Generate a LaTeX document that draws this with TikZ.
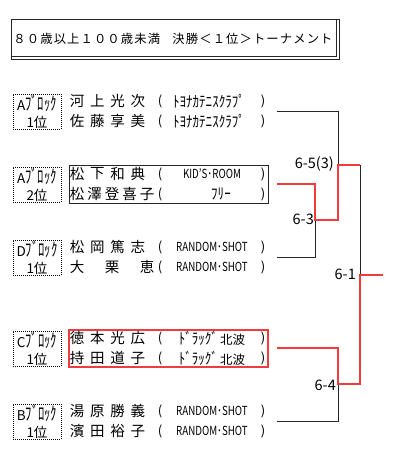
\documentclass[tikz,border=0pt]{standalone}
\usepackage{fontspec}
\usepackage{graphicx}
\setmainfont{Noto Sans CJK JP}
\definecolor{wred}{RGB}{240,60,60}
\tikzset{
  blk/.style={draw, dash pattern=on 1pt off 1pt, line width=0.8pt, minimum width=48pt, minimum height=35pt, inner sep=0pt},
  blt/.style={inner sep=0pt, font=\fontsize{13.5}{13.5}\selectfont},
  nm/.style={inner sep=0pt, font=\fontsize{14.5}{14.5}\selectfont},
  cl/.style={inner sep=0pt, font=\fontsize{12.5}{12.5}\selectfont},
  par/.style={inner sep=0pt, font=\fontsize{13}{13}\selectfont},
  sc/.style={inner sep=0pt, anchor=east, font=\fontsize{14.5}{14.5}\selectfont},
  bk/.style={draw=black!85, line width=0.9pt},
  rd/.style={draw=wred, line width=2.6pt},
  bbox/.style={draw=black!85, line width=1pt},
  rbox/.style={draw=wred, line width=2pt}
}
\newcommand\rowfour[3]{\foreach \ch [count=\i] in {#3} {\node[nm] (#1-\i) at ({77+(\i-1)*20.33},#2) {\ch};}}
\newcommand\rowfive[3]{\foreach \ch [count=\i] in {#3} {\node[nm] (#1-\i) at ({77+(\i-1)*17.5},#2) {\ch};}}
\newcommand\clubrow[4]{%
  \node[par] (#1-o) at (160,#2) {(};
  \node[cl] (#1-c) at (#3,#2) {#4};
  \node[par] (#1-x) at (263,#2) {)};}
\newcommand\lat[1]{\scalebox{0.78}[1]{#1}}
\newcommand\kana[1]{\scalebox{0.84}[1]{\fontsize{15.5}{15.5}\selectfont #1}}
\newcommand\bkana[1]{\scalebox{0.68}[1]{\fontsize{18.5}{18.5}\selectfont #1}}
\begin{document}
\begin{tikzpicture}[x=1pt,y=-1pt]
\useasboundingbox (0,0) rectangle (400,474);
\fill[white] (0,0) rectangle (400,474);
% title
\draw[bbox] (11,19) rectangle (339,59);
\draw[bbox] (11,56) -- (336,56) -- (336,19);
\node[inner sep=0pt] (title) at (173,39) {\resizebox{319pt}{!}{\fontsize{13}{13}\selectfont\addfontfeature{LetterSpace=9}８０歳以上１００歳未満\hspace{9pt} 決勝＜１位＞トーナメント}};
% block boxes
\node[blk] (bA1) at (37,111.5) {};
\node[blt] (bA1a) at (37,103) {A\bkana{ﾌﾞﾛｯｸ}};
\node[blt] (bA1b) at (37,122) {1位};
\node[blk] (bA2) at (37,184.5) {};
\node[blt] (bA2a) at (37,176) {A\bkana{ﾌﾞﾛｯｸ}};
\node[blt] (bA2b) at (37,195) {2位};
\node[blk] (bD1) at (37,257.5) {};
\node[blt] (bD1a) at (37,249) {D\bkana{ﾌﾞﾛｯｸ}};
\node[blt] (bD1b) at (37,268) {1位};
\node[blk] (bC1) at (37,348.5) {};
\node[blt] (bC1a) at (37,340) {C\bkana{ﾌﾞﾛｯｸ}};
\node[blt] (bC1b) at (37,359) {1位};
\node[blk] (bB1) at (37,421.5) {};
\node[blt] (bB1a) at (37,413) {B\bkana{ﾌﾞﾛｯｸ}};
\node[blt] (bB1b) at (37,432) {1位};
% name boxes
\draw[bbox] (69,165) rectangle (268,203);
\draw[rbox] (69,330) rectangle (268,367);
% names
\rowfour{nA1a}{101}{河,上,光,次}
\clubrow{cA1a}{101}{209}{\kana{ﾄﾖﾅｶﾃﾆｽｸﾗﾌﾟ}}
\rowfour{nA1b}{121}{佐,藤,享,美}
\clubrow{cA1b}{121}{209}{\kana{ﾄﾖﾅｶﾃﾆｽｸﾗﾌﾟ}}
\rowfour{nA2a}{174}{松,下,和,典}
\clubrow{cA2a}{174}{212}{\lat{KID’S･ROOM}}
\rowfive{nA2b}{194}{松,澤,登,喜,子}
\clubrow{cA2b}{194}{221}{\kana{ﾌﾘｰ}}
\rowfour{nD1a}{247}{松,岡,篤,志}
\clubrow{cD1a}{247}{212}{\lat{RANDOM･SHOT}}
\node[nm] (nD1b-1) at (77,267) {大};
\node[nm] (nD1b-2) at (112,267) {栗};
\node[nm] (nD1b-3) at (147,267) {恵};
\clubrow{cD1b}{267}{212}{\lat{RANDOM･SHOT}}
\rowfour{nC1a}{338}{徳,本,光,広}
\clubrow{cC1a}{338}{212}{\kana{ﾄﾞﾗｯｸﾞ}\,北波}
\rowfour{nC1b}{358}{持,田,道,子}
\clubrow{cC1b}{358}{212}{\kana{ﾄﾞﾗｯｸﾞ}\,北波}
\rowfour{nB1a}{411}{湯,原,勝,義}
\clubrow{cB1a}{411}{212}{\lat{RANDOM･SHOT}}
\rowfour{nB1b}{431}{濱,田,裕,子}
\clubrow{cB1b}{431}{212}{\lat{RANDOM･SHOT}}
% bracket coordinates
\coordinate (eA1) at (277,111);
\coordinate (eA2) at (277,184);
\coordinate (eD1) at (277,257);
\coordinate (eC1) at (277,348);
\coordinate (eB1) at (277,421);
\coordinate (j1) at (338,165);
\coordinate (j1r) at (360,165);
\coordinate (j2) at (315,220);
\coordinate (j3) at (360,275);
\coordinate (j4) at (338,384);
\coordinate (champ) at (383,275);
% black lines
\draw[bk] (eA1) -| (j1);
\draw[bk] (eD1) -| (j2);
\draw[bk] (j1r) -- (j3);
\draw[bk] (eB1) -| (j4);
% red lines
\draw[rd] (eA2) -| (j2) -| (j1) -- (j1r);
\draw[rd] (eC1) -| (j4) -| (j3) -- (champ);
% scores
\node[sc] (s1) at (334,164) {6-5(3)};
\node[sc] (s2) at (314,219) {6-3};
\node[sc] (s3) at (356,274) {6-1};
\node[sc] (s4) at (336,385) {6-4};
\end{tikzpicture}
\end{document}
